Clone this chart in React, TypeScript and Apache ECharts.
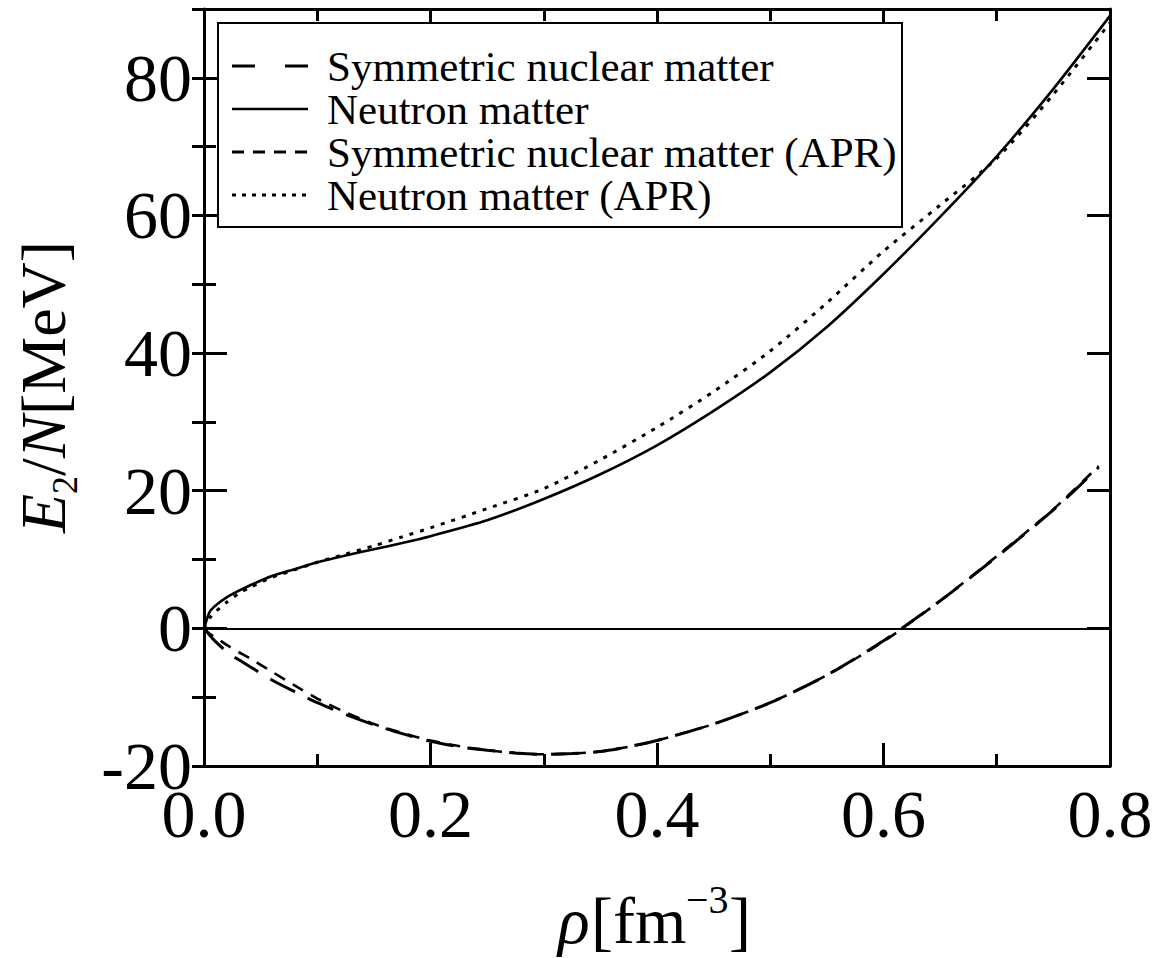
import React, { useEffect, useRef } from "react";
import * as echarts from "echarts";

const FONT = '"Liberation Serif", "Times New Roman", serif';

// ---- data ----
const seriesNames = [
  "Symmetric nuclear matter",
  "Neutron matter",
  "Symmetric nuclear matter (APR)",
  "Neutron matter (APR)",
];

const rhoNeutron = [0, 0.005, 0.01, 0.02, 0.03, 0.04, 0.06, 0.08, 0.1, 0.125, 0.15, 0.175, 0.2, 0.25, 0.3, 0.35, 0.4, 0.45, 0.5, 0.55, 0.6, 0.65, 0.7, 0.75, 0.8];
const neutronMatter = [0, 2.4, 3.3, 4.5, 5.4, 6.2, 7.6, 8.6, 9.6, 10.6, 11.5, 12.4, 13.4, 15.7, 18.8, 22.4, 26.6, 31.6, 37.2, 43.8, 51.5, 59.8, 68.6, 78.4, 89.0];
const neutronMatterAPR = [0, 1.5, 2.4, 3.8, 5.0, 5.9, 7.4, 8.5, 9.6, 10.8, 12.0, 13.3, 14.6, 17.4, 20.3, 24.5, 29.2, 34.4, 40.3, 47.3, 54.8, 61.5, 68.3, 77.6, 88.0];

const rhoSymmetric = [0, 0.005, 0.01, 0.02, 0.03, 0.04, 0.06, 0.08, 0.1, 0.125, 0.15, 0.175, 0.2, 0.225, 0.25, 0.275, 0.3, 0.325, 0.35, 0.375, 0.4, 0.45, 0.5, 0.55, 0.6, 0.65, 0.7, 0.75, 0.79];
const symmetricMatter = [0, -1.0, -1.9, -3.4, -4.5, -5.5, -7.5, -9.2, -10.8, -12.5, -14.0, -15.3, -16.4, -17.2, -17.7, -18.1, -18.3, -18.2, -17.9, -17.2, -16.3, -13.9, -10.8, -6.8, -1.8, 4.0, 10.4, 17.2, 23.4];
const symmetricMatterAPR = [0, -0.8, -1.3, -2.4, -3.4, -4.3, -6.3, -8.3, -10.2, -12.2, -13.9, -15.2, -16.3, -17.1, -17.7, -18.1, -18.3, -18.2, -17.9, -17.2, -16.3, -13.9, -10.8, -6.8, -1.9, 4.0, 10.5, 17.3, 23.6];

const xTickStep = 0.2;
const yTickStep = 20;
const yMinorStep = 10;

const zip = (xs: number[], ys: number[]) => xs.map((x, i) => [x, ys[i]]);

export default function App() {
  const ref = useRef<HTMLDivElement>(null);

  useEffect(() => {
    const chart = echarts.init(ref.current!, null, { renderer: "svg" });

    const axisLine = { show: true, onZero: false, lineStyle: { color: "#000", width: 3 } };
    const majorTick = { show: true, inside: true, length: 23, lineStyle: { color: "#000", width: 3 } };
    const minorTickY = { show: true, inside: true, length: 12, lineStyle: { color: "#000", width: 3 } };
    const labelStyle = { color: "#000", fontFamily: FONT, fontSize: 68 };

    const xBase = {
      type: "value",
      min: 0,
      max: 0.8,
      interval: xTickStep,
      axisLine,
      axisTick: majorTick,
      minorTick: { show: true, splitNumber: 2, length: 12, lineStyle: { color: "#000", width: 3 } },
      splitLine: { show: false },
      minorSplitLine: { show: false },
    };
    const yBase = {
      type: "value",
      min: -20,
      max: 90,
      splitLine: { show: false },
    };

    const lineStyles = [
      { color: "#000", width: 3, type: [28, 14] },
      { color: "#000", width: 2.6, type: "solid" },
      { color: "#000", width: 2.6, type: [12, 9] },
      { color: "#000", width: 3, type: [4, 7] },
    ];
    const legendDash: any[] = [[23, 30], "solid", [12, 9], [4, 6]];
    const legendRows = [66, 109, 152, 195];

    const legendGraphics: any[] = [
      {
        type: "rect",
        shape: { x: 218, y: 23, width: 684, height: 204 },
        style: { fill: "#fff", stroke: "#000", lineWidth: 2 },
        z: 100,
      },
    ];
    seriesNames.forEach((name, i) => {
      legendGraphics.push({
        type: "line",
        shape: { x1: 232, y1: legendRows[i], x2: 308, y2: legendRows[i] },
        style: {
          stroke: "#000",
          lineWidth: i === 1 ? 2.6 : 3,
          lineDash: legendDash[i] === "solid" ? null : legendDash[i],
        },
        z: 101,
      });
      legendGraphics.push({
        type: "text",
        x: 327,
        y: legendRows[i],
        style: {
          text: name,
          fill: "#000",
          font: `43px ${FONT}`,
          align: "left",
          verticalAlign: "middle",
          textAlign: "left",
          textVerticalAlign: "middle",
        },
        z: 101,
      });
    });

    const txt = (text: string, x: number, y: number, size: number, italic = false) => ({
      type: "text",
      x,
      y,
      style: {
        text,
        fill: "#000",
        font: `${italic ? "italic " : ""}${size}px ${FONT}`,
        align: "left",
        verticalAlign: "middle",
        textAlign: "left",
        textVerticalAlign: "middle",
      },
    });

    const xTitle = {
      type: "group",
      children: [
        txt("ρ", 558, 920, 66, true),
        txt("[fm", 591, 920, 66),
        txt("−3", 686, 899, 40),
        txt("]", 729, 920, 66),
      ],
    };
    const yTitle = {
      type: "group",
      x: 43,
      y: 533,
      rotation: Math.PI / 2,
      children: [
        txt("E", 0, 0, 64, true),
        txt("2", 39, 22, 36),
        txt("/", 57, 0, 64),
        txt("N", 75, 0, 64, true),
        txt("[MeV]", 118, 0, 64),
      ],
    };

    const option: any = {
      animation: false,
      backgroundColor: "#fff",
      grid: { left: 204, right: 47, top: 9, bottom: 192, containLabel: false },
      xAxis: [
        {
          ...xBase,
          position: "bottom",
          axisLabel: { ...labelStyle, margin: 14, formatter: (v: number) => v.toFixed(1) },
        },
        { ...xBase, position: "top", axisLabel: { show: false } },
      ],
      yAxis: [
        {
          ...yBase,
          position: "left",
          interval: yTickStep,
          axisLine,
          axisTick: majorTick,
          axisLabel: { ...labelStyle, margin: 12, showMaxLabel: false },
        },
        {
          ...yBase,
          position: "left",
          interval: yMinorStep,
          axisLine: { show: false },
          axisTick: minorTickY,
          axisLabel: { show: false },
        },
        {
          ...yBase,
          position: "right",
          interval: yTickStep,
          axisLine,
          axisTick: majorTick,
          axisLabel: { show: false },
        },
        {
          ...yBase,
          position: "right",
          interval: yMinorStep,
          axisLine: { show: false },
          axisTick: minorTickY,
          axisLabel: { show: false },
        },
      ],
      series: [
        {
          name: seriesNames[0],
          type: "line",
          data: zip(rhoSymmetric, symmetricMatter),
          smooth: 0.25,
          symbol: "none",
          lineStyle: lineStyles[0],
          xAxisIndex: 0,
          yAxisIndex: 0,
          z: 3,
        },
        {
          name: seriesNames[1],
          type: "line",
          data: zip(rhoNeutron, neutronMatter),
          smooth: 0.25,
          symbol: "none",
          lineStyle: lineStyles[1],
          xAxisIndex: 0,
          yAxisIndex: 0,
          z: 3,
          markLine: {
            silent: true,
            symbol: ["none", "none"],
            label: { show: false },
            lineStyle: { color: "#000", width: 2, type: "solid" },
            data: [{ yAxis: 0 }],
          },
        },
        {
          name: seriesNames[2],
          type: "line",
          data: zip(rhoSymmetric, symmetricMatterAPR),
          smooth: 0.25,
          symbol: "none",
          lineStyle: lineStyles[2],
          xAxisIndex: 0,
          yAxisIndex: 0,
          z: 3,
        },
        {
          name: seriesNames[3],
          type: "line",
          data: zip(rhoNeutron, neutronMatterAPR),
          smooth: 0.25,
          symbol: "none",
          lineStyle: lineStyles[3],
          xAxisIndex: 0,
          yAxisIndex: 0,
          z: 3,
        },
      ],
      graphic: [...legendGraphics, xTitle, yTitle],
    };

    chart.setOption(option);
    return () => chart.dispose();
  }, []);

  return (
    <div
      ref={ref}
      style={{ position: "fixed", left: 0, top: 0, width: 1157, height: 958, background: "#fff" }}
    />
  );
}
